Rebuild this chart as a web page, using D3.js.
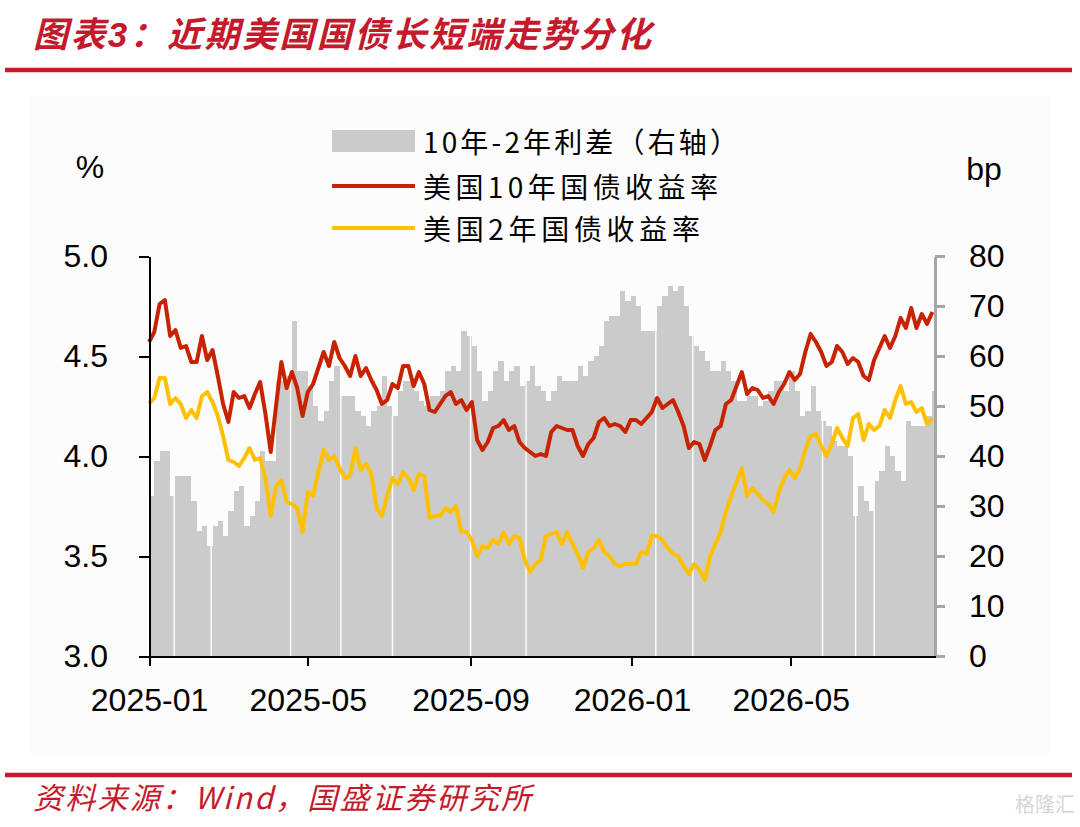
<!DOCTYPE html>
<html>
<head>
<meta charset="utf-8">
<script src="https://cdn.jsdelivr.net/npm/d3@7"></script>
<style>
  body { margin: 0; background: #fff; }
  .num { font-family: "Liberation Sans", Arial, sans-serif; font-size: 32px; fill: #000; }
  .cjk { font-family: "Noto Sans CJK SC", sans-serif; }
  .red-italic { fill: #c41a2c; font-style: italic; }
  .axis path, .axis line { shape-rendering: crispEdges; }
</style>
</head>
<body>
<div id="chart"></div>
<script>

// x positions: one reading every 4 days from 2025-01-01
var startDate = new Date(2025, 0, 1);
var endDate = new Date(2026, 7, 18);
var stepDays = 4;

var seriesNames = ["10年-2年利差（右轴）", "美国10年国债收益率", "美国2年国债收益率"];

// US 10Y yield, %
var yield10 = [
    4.57, 4.62, 4.76, 4.78, 4.60, 4.63, 4.54, 4.55, 4.47, 4.47,
    4.60, 4.48, 4.53, 4.40, 4.26, 4.17, 4.32, 4.29, 4.30, 4.24,
    4.31, 4.37, 4.21, 4.02, 4.25, 4.47, 4.34, 4.42, 4.34, 4.20,
    4.32, 4.36, 4.44, 4.52, 4.45, 4.57, 4.49, 4.45, 4.40, 4.50,
    4.40, 4.44, 4.38, 4.33, 4.26, 4.28, 4.36, 4.34, 4.45, 4.45,
    4.35, 4.42, 4.36, 4.23, 4.22, 4.26, 4.30, 4.32, 4.26, 4.28,
    4.23, 4.27, 4.08, 4.03, 4.07, 4.14, 4.15, 4.18, 4.13, 4.15,
    4.07, 4.04, 4.02, 4.00, 4.01, 4.00, 4.12, 4.15, 4.14, 4.13,
    4.13, 4.05, 4.00, 4.06, 4.09, 4.17, 4.19, 4.15, 4.16, 4.15,
    4.12, 4.18, 4.18, 4.16, 4.19, 4.22, 4.29, 4.24, 4.26, 4.28,
    4.22, 4.15, 4.04, 4.07, 4.06, 3.98, 4.05, 4.13, 4.15, 4.26,
    4.28, 4.35, 4.42, 4.31, 4.34, 4.33, 4.29, 4.30, 4.26, 4.32,
    4.36, 4.42, 4.38, 4.41, 4.52, 4.61, 4.57, 4.52, 4.45, 4.47,
    4.55, 4.52, 4.46, 4.49, 4.47, 4.40, 4.38, 4.48, 4.54, 4.60,
    4.54, 4.60, 4.69, 4.64, 4.74, 4.64, 4.71, 4.66, 4.72
];

// US 2Y yield, %
var yield2 = [
    4.26, 4.29, 4.39, 4.39, 4.26, 4.29, 4.26, 4.19, 4.23, 4.19,
    4.30, 4.32, 4.27, 4.20, 4.10, 3.98, 3.97, 3.95, 3.99, 4.04,
    3.98, 3.99, 3.89, 3.70, 3.85, 3.88, 3.77, 3.76, 3.74, 3.62,
    3.82, 3.80, 3.92, 4.03, 3.98, 4.00, 3.94, 3.89, 3.90, 4.04,
    3.93, 3.96, 3.91, 3.74, 3.70, 3.80, 3.89, 3.86, 3.92, 3.89,
    3.83, 3.91, 3.90, 3.69, 3.70, 3.70, 3.74, 3.72, 3.75, 3.62,
    3.62, 3.58, 3.50, 3.55, 3.54, 3.58, 3.56, 3.62, 3.56, 3.60,
    3.59, 3.48, 3.42, 3.46, 3.48, 3.60, 3.61, 3.62, 3.56, 3.62,
    3.56, 3.51, 3.44, 3.52, 3.54, 3.58, 3.52, 3.50, 3.46, 3.45,
    3.46, 3.46, 3.46, 3.52, 3.51, 3.60, 3.60, 3.58, 3.54, 3.51,
    3.50, 3.45, 3.41, 3.46, 3.43, 3.38, 3.50, 3.56, 3.62, 3.72,
    3.80, 3.87, 3.94, 3.80, 3.84, 3.81, 3.78, 3.76, 3.72, 3.82,
    3.89, 3.93, 3.89, 3.94, 4.03, 4.10, 4.11, 4.05, 4.00, 4.06,
    4.14, 4.09, 4.05, 4.19, 4.21, 4.08, 4.16, 4.13, 4.15, 4.23,
    4.19, 4.28, 4.35, 4.26, 4.27, 4.22, 4.24, 4.16, 4.19
];

// 10Y-2Y spread, bp (right axis)
var spread = [
    32, 39, 41, 41, 32, 36, 36, 36, 31, 25,
    26, 22, 26, 27, 24, 29, 33, 34, 26, 28,
    31, 41, 39, 39, 55, 55, 56, 67, 57, 57,
    54, 50, 47, 49, 55, 58, 52, 52, 52, 49,
    48, 46, 49, 50, 56, 50, 48, 53, 55, 55,
    53, 51, 50, 52, 52, 53, 57, 58, 57, 65,
    64, 62, 57, 51, 53, 57, 59, 55, 57, 58,
    54, 55, 58, 54, 53, 51, 53, 56, 55, 55,
    55, 58, 56, 59, 60, 62, 67, 68, 68, 73,
    71, 72, 70, 65, 65, 65, 70, 72, 74, 73,
    74, 70, 64, 62, 61, 59, 57, 57, 59, 57,
    55, 51, 51, 52, 52, 50, 51, 53, 55, 55,
    53, 57, 53, 48, 49, 54, 49, 47, 46, 43,
    42, 42, 40, 28, 34, 31, 29, 35, 37, 42,
    40, 37, 35, 47, 46, 46, 46, 48, 53
];

// market holidays, shown as thin gaps in the spread bars
var holidays = ["2025-01-20", "2025-02-17", "2025-04-18", "2025-05-26", "2025-07-04", "2025-09-01",
    "2025-10-13", "2026-01-19", "2026-02-16", "2026-05-25", "2026-06-19", "2026-07-03"];

var xTickLabels = ["2025-01", "2025-05", "2025-09", "2026-01", "2026-05"];
var leftTicks = [3.0, 3.5, 4.0, 4.5, 5.0];
var rightTicks = [0, 10, 20, 30, 40, 50, 60, 70, 80];

var parseMonth = d3.timeParse("%Y-%m");
var parseDay = d3.timeParse("%Y-%m-%d");


/*
 * SpreadChart - Object constructor function
 * @param _parentElement -- the HTML element in which to draw the chart
 */

SpreadChart = function(_parentElement) {
    this.parentElement = _parentElement;
    this.initVis();
};


SpreadChart.prototype.initVis = function() {
    var vis = this;

    vis.svgWidth = 1080;
    vis.svgHeight = 827;
    vis.margin = {top: 256, right: 145, bottom: 171, left: 149};
    vis.width = vis.svgWidth - vis.margin.left - vis.margin.right;
    vis.height = vis.svgHeight - vis.margin.top - vis.margin.bottom;

    vis.root = d3.select("#" + vis.parentElement).append("svg")
        .attr("width", vis.svgWidth)
        .attr("height", vis.svgHeight);

    // Page frame: title, rules, source
    vis.root.append("rect")
        .attr("x", 29).attr("y", 96)
        .attr("width", 1020).attr("height", 657)
        .attr("fill", "#fcfcfc");

    var title = vis.root.append("text")
        .attr("class", "cjk red-italic")
        .attr("x", 33).attr("y", 47)
        .attr("font-size", 35)
        .attr("font-weight", 700)
        .attr("textLength", 618)
        .attr("lengthAdjust", "spacing");
    title.append("tspan").text("图表");
    title.append("tspan").attr("font-family", "Liberation Sans").text("3");
    title.append("tspan").text("：近期美国国债长短端走势分化");

    vis.root.append("line")
        .attr("x1", 5).attr("x2", 1072).attr("y1", 70).attr("y2", 70)
        .attr("stroke", "#c41a2c").attr("stroke-width", 4.5);
    vis.root.append("line")
        .attr("x1", 5).attr("x2", 1072).attr("y1", 775).attr("y2", 775)
        .attr("stroke", "#c41a2c").attr("stroke-width", 4.5);

    vis.root.append("text")
        .attr("class", "cjk red-italic")
        .attr("x", 33).attr("y", 809)
        .attr("font-size", 30)
        .attr("textLength", 498)
        .attr("lengthAdjust", "spacing")
        .text("资料来源：Wind，国盛证券研究所");

    vis.root.append("text")
        .attr("class", "cjk")
        .attr("x", 1075).attr("y", 812)
        .attr("text-anchor", "end")
        .attr("font-size", 20)
        .attr("fill", "#d6d6d6")
        .text("格隆汇");

    // Chart area
    vis.svg = vis.root.append("g")
        .attr("transform", "translate(" + vis.margin.left + "," + vis.margin.top + ")");

    // Scales
    vis.x = d3.scaleTime()
        .domain([startDate, endDate])
        .range([0, vis.width]);
    vis.yLeft = d3.scaleLinear()
        .domain([3, 5])
        .range([vis.height, 0]);
    vis.yRight = d3.scaleLinear()
        .domain([0, 80])
        .range([vis.height, 0]);

    vis.barGroup = vis.svg.append("g");
    vis.gapGroup = vis.svg.append("g");
    vis.path2 = vis.svg.append("path");
    vis.path10 = vis.svg.append("path");

    // Axes
    vis.xAxis = d3.axisBottom(vis.x)
        .tickValues(xTickLabels.map(function(d) { return parseMonth(d); }))
        .tickFormat(d3.timeFormat("%Y-%m"))
        .tickSize(10).tickSizeOuter(0).tickPadding(22);
    vis.yAxisLeft = d3.axisLeft(vis.yLeft)
        .tickValues(leftTicks)
        .tickFormat(d3.format(".1f"))
        .tickSize(10).tickSizeOuter(0).tickPadding(31);
    vis.yAxisRight = d3.axisRight(vis.yRight)
        .tickValues(rightTicks)
        .tickSize(10).tickSizeOuter(0).tickPadding(24);

    vis.yAxisRightGroup = vis.svg.append("g")
        .attr("class", "axis y-axis-right")
        .attr("transform", "translate(" + vis.width + ",0)");
    vis.yAxisLeftGroup = vis.svg.append("g")
        .attr("class", "axis y-axis-left");
    vis.xAxisGroup = vis.svg.append("g")
        .attr("class", "axis x-axis")
        .attr("transform", "translate(0," + vis.height + ")");

    // Axis unit labels
    vis.root.append("text").attr("class", "num")
        .attr("x", 90).attr("y", 178)
        .attr("text-anchor", "middle")
        .text("%");
    vis.root.append("text").attr("class", "num")
        .attr("x", 984).attr("y", 180)
        .attr("text-anchor", "middle")
        .attr("font-size", 35)
        .text("bp");

    // Legend
    vis.legend = vis.root.append("g");

    vis.wrangleData();
};


SpreadChart.prototype.wrangleData = function() {
    var vis = this;

    vis.data = spread.map(function(d, i) {
        return {
            date: d3.timeDay.offset(startDate, i * stepDays),
            spread: d,
            y10: yield10[i],
            y2: yield2[i]
        };
    });

    vis.line10 = d3.line()
        .x(function(d) { return vis.x(d.date); })
        .y(function(d) { return vis.yLeft(d.y10); });
    vis.line2 = d3.line()
        .x(function(d) { return vis.x(d.date); })
        .y(function(d) { return vis.yLeft(d.y2); });

    vis.updateVis();
};


SpreadChart.prototype.updateVis = function() {
    var vis = this;

    // Spread bars, each reading holds until the next one
    vis.barGroup.selectAll("rect")
        .data(vis.data)
        .enter()
        .append("rect")
        .attr("shape-rendering", "crispEdges")
        .attr("fill", "#cbcbcb")
        .attr("x", function(d) { return Math.round(vis.x(d.date)); })
        .attr("width", function(d, i) {
            var next = i < vis.data.length - 1 ? vis.data[i + 1].date : endDate;
            return Math.round(vis.x(next)) - Math.round(vis.x(d.date));
        })
        .attr("y", function(d) { return vis.yRight(d.spread); })
        .attr("height", function(d) { return vis.height - vis.yRight(d.spread); });

    // Holiday gaps
    var bisect = d3.bisector(function(d) { return d.date; }).right;
    vis.gapGroup.selectAll("line")
        .data(holidays.map(function(d) { return parseDay(d); }))
        .enter()
        .append("line")
        .attr("x1", function(d) { return vis.x(d); })
        .attr("x2", function(d) { return vis.x(d); })
        .attr("y1", function(d) {
            var i = Math.max(0, bisect(vis.data, d) - 1);
            return vis.yRight(vis.data[i].spread);
        })
        .attr("y2", vis.height)
        .attr("stroke", "#fcfcfc")
        .attr("stroke-width", 1.5);

    // Yield lines
    vis.path2.datum(vis.data)
        .attr("fill", "none")
        .attr("stroke", "#ffc000")
        .attr("stroke-width", 4)
        .attr("stroke-linejoin", "round")
        .attr("d", vis.line2);
    vis.path10.datum(vis.data)
        .attr("fill", "none")
        .attr("stroke", "#c82300")
        .attr("stroke-width", 4)
        .attr("stroke-linejoin", "round")
        .attr("d", vis.line10);

    // Draw axes
    vis.xAxisGroup.call(vis.xAxis);
    vis.yAxisLeftGroup.call(vis.yAxisLeft);
    vis.yAxisRightGroup.call(vis.yAxisRight);

    vis.svg.selectAll(".axis text")
        .attr("font-family", "Liberation Sans, Arial, sans-serif")
        .attr("font-size", 32)
        .attr("fill", "#000");
    vis.xAxisGroup.selectAll("path, line").attr("stroke", "#000").attr("stroke-width", 2);
    vis.yAxisLeftGroup.selectAll("path, line").attr("stroke", "#000").attr("stroke-width", 2);
    vis.yAxisRightGroup.selectAll("path, line").attr("stroke", "#a6a6a6").attr("stroke-width", 2.5);

    // Legend
    var items = [
        {name: seriesNames[0], type: "bar", color: "#cbcbcb", cy: 141, len: 315},
        {name: seriesNames[1], type: "line", color: "#c82300", cy: 186, len: 295},
        {name: seriesNames[2], type: "line", color: "#ffc000", cy: 228, len: 277}
    ];
    items.forEach(function(d) {
        if (d.type === "bar") {
            vis.legend.append("rect")
                .attr("x", 332).attr("y", d.cy - 11)
                .attr("width", 83).attr("height", 22)
                .attr("fill", d.color);
        } else {
            vis.legend.append("line")
                .attr("x1", 332).attr("x2", 415)
                .attr("y1", d.cy).attr("y2", d.cy)
                .attr("stroke", d.color).attr("stroke-width", 4);
        }
        vis.legend.append("text")
            .attr("class", "cjk")
            .attr("x", 423).attr("y", d.cy)
            .attr("dominant-baseline", "central")
            .attr("font-size", 28)
            .attr("fill", "#000")
            .attr("textLength", d.len)
            .attr("lengthAdjust", "spacing")
            .text(d.name);
    });
};


var chart = new SpreadChart("chart");

</script>
</body>
</html>
